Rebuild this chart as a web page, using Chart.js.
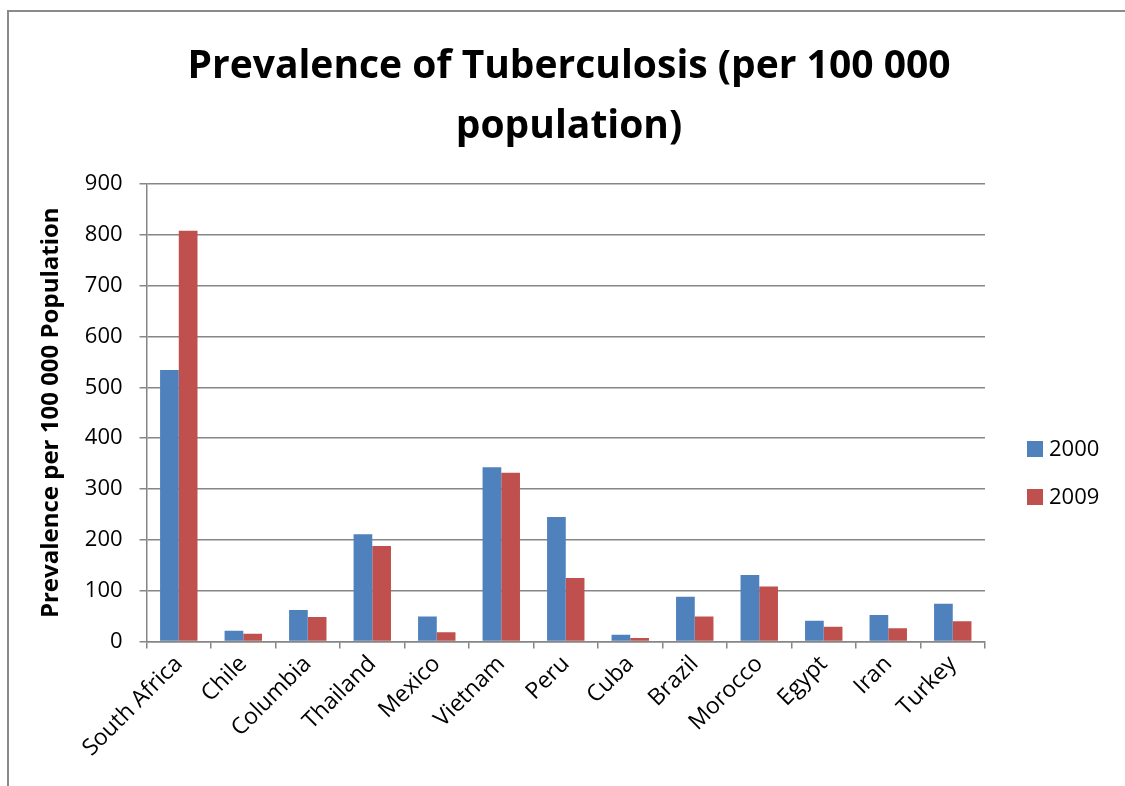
<!DOCTYPE html>
<html>
<head>
<meta charset="utf-8">
<script src="https://cdn.jsdelivr.net/npm/chart.js@4.4.0/dist/chart.umd.min.js"></script>
<style>
  html, body { margin: 0; padding: 0; background: #fff; }
  #wrap { position: relative; width: 1125px; height: 786px; }
  #frame { position: absolute; left: 7px; top: 10px; width: 1130px; height: 800px;
           border-left: 2px solid #8a8a8a; border-top: 2px solid #8a8a8a; pointer-events: none; }
</style>
</head>
<body>
<div id="wrap">
  <canvas id="grafico" width="1125" height="786"></canvas>
  <div id="frame"></div>
</div>
<script>
// dados
const paises = ['South Africa', 'Chile', 'Columbia', 'Thailand', 'Mexico', 'Vietnam', 'Peru',
                'Cuba', 'Brazil', 'Morocco', 'Egypt', 'Iran', 'Turkey'];
const serie2000 = [534, 21, 62, 211, 49, 343, 245, 13, 88, 131, 41, 52, 74];
const serie2009 = [808, 15, 48, 188, 18, 332, 125, 7, 49, 108, 29, 26, 40];
const anos = ['2000', '2009'];
const yTicks = [0, 100, 200, 300, 400, 500, 600, 700, 800, 900];
const titulo = ['Prevalence of Tuberculosis (per 100 000', 'population)'];

const fonte = '"Open Sans", Lato, sans-serif';

// título e legenda desenhados à mão, como no Excel
const extrasExcel = {
    id: 'extrasExcel',
    afterDraw(chart) {
        const ctx = chart.ctx;
        ctx.save();
        // título
        ctx.font = 'bold 39px ' + fonte;
        ctx.fillStyle = '#000';
        ctx.textAlign = 'center';
        ctx.textBaseline = 'alphabetic';
        titulo.forEach((linha, i) => ctx.fillText(linha, 569, 78 + i * 60));
        // legenda
        ctx.font = '22px ' + fonte;
        ctx.textBaseline = 'middle';
        ctx.textAlign = 'left';
        chart.data.datasets.forEach((ds, i) => {
            const y = 449 + i * 48;
            ctx.fillStyle = ds.backgroundColor;
            ctx.fillRect(1027, y - 8, 16, 16);
            ctx.fillStyle = '#000';
            ctx.fillText(ds.label, 1049, y + 1);
        });
        ctx.restore();
    }
};

const ctx = document.getElementById('grafico').getContext('2d');
const grafico = new Chart(ctx, {
    type: 'bar',
    data: {
        labels: paises,
        datasets: [
            { label: anos[0], data: serie2000, backgroundColor: '#4F81BD' },
            { label: anos[1], data: serie2009, backgroundColor: '#C0504D' }
        ]
    },
    options: {
        responsive: false,
        animation: false,
        layout: { padding: { left: 37, right: 140, top: 184, bottom: 22 } },
        datasets: {
            bar: { categoryPercentage: 0.58, barPercentage: 1.0 }
        },
        plugins: {
            legend: { display: false },
            tooltip: { enabled: false },
            title: { display: false }
        },
        scales: {
            x: {
                grid: { offset: true, drawOnChartArea: false, color: '#868686', lineWidth: 1.5, tickLength: 7 },
                border: { color: '#868686', width: 1.5 },
                ticks: {
                    color: '#000',
                    font: { family: fonte, size: 23 },
                    minRotation: 45, maxRotation: 45,
                    autoSkip: false, padding: 2
                }
            },
            y: {
                min: 0, max: 900,
                afterBuildTicks(axis) { axis.ticks = yTicks.map(v => ({ value: v })); },
                grid: { color: '#868686', lineWidth: 1.5, tickLength: 7 },
                border: { color: '#868686', width: 1.5 },
                ticks: { color: '#000', font: { family: fonte, size: 22 }, padding: 17 },
                title: {
                    display: true,
                    text: 'Prevalence per 100 000 Population',
                    color: '#000',
                    font: { family: fonte, size: 24, weight: 'bold' },
                    padding: { top: 0, bottom: 2 }
                }
            }
        }
    },
    plugins: [extrasExcel]
});
</script>
</body>
</html>
